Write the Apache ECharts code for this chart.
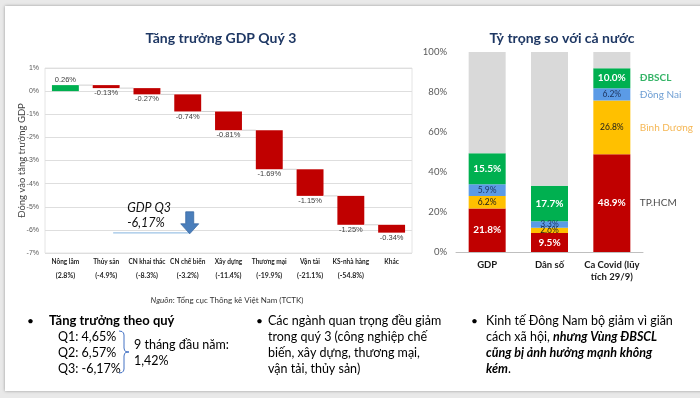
<!DOCTYPE html>
<html><head><meta charset="utf-8">
<script src="https://cdn.jsdelivr.net/npm/echarts@6/dist/echarts.min.js"></script>
<style>html,body{margin:0;padding:0;background:#e9e9e9}#c{width:700px;height:398px}</style>
</head><body><div id="c"></div>
<script>
// ---- Left chart data (waterfall) ----
const sectors = ['Nông lâm','Thủy sản','CN khai thác','CN chế biến','Xây dựng','Thương mại','Vận tải','KS-nhà hàng','Khác'];
const sectorGrowth = ['(2.8%)','(-4.9%)','(-8.3%)','(-3.2%)','(-11.4%)','(-19.9%)','(-21.1%)','(-54.8%)',''];
const contributions = [0.26,-0.13,-0.27,-0.74,-0.81,-1.69,-1.15,-1.25,-0.34];
const gdpQ3 = -6.17;
const leftTicks = [-7,-6,-5,-4,-3,-2,-1,0,1];
// ---- Right chart data (stacked shares) ----
const shareCats = ['GDP','Dân số','Ca Covid (lũy\ntích 29/9)'];
const regionNames = ['TP.HCM','Bình Dương','Đồng Nai','ĐBSCL'];
const hcm = [21.8, 9.5, 48.9];
const binhDuong = [6.2, 2.6, 26.8];
const dongNai = [5.9, 3.3, 6.2];
const dbscl = [15.5, 17.7, 10.0];
const rightTicks = [0,20,40,60,80,100];

const FONT = 'Lato';
const wfData = [];
let cum = 0;
contributions.forEach((d, i) => { const s = cum; cum = +(cum + d).toFixed(4); wfData.push([i, s, cum, d]); });

const regionVals = [hcm, binhDuong, dongNai, dbscl];
const rest = shareCats.map((_, i) => +(100 - regionVals.reduce((a, arr) => a + arr[i], 0)).toFixed(1));
const regionColors = ['#C00000','#FFC000','#5B9BE6','#00B050'];
const labelColors = ['#ffffff','#1a1a1a','#1F3864','#ffffff'];
const labelBold = ['bold','normal','normal','bold'];
const legendColors = ['#1a1a1a','#F2A52B','#4A86C8','#00A040'];
const legendBold = ['normal','normal','normal','bold'];

const chart = echarts.init(document.getElementById('c'));

const rightSeries = regionNames.map((n, k) => ({
  type: 'bar', name: n, stack: 's', xAxisIndex: 1, yAxisIndex: 1, barWidth: 37,
  data: regionVals[k], itemStyle: { color: regionColors[k] },
  label: { show: true, position: 'inside', formatter: p => p.value.toFixed(1) + '%',
    color: labelColors[k], fontWeight: labelBold[k], fontSize: k === 0 || k === 3 ? 10 : 8.5, fontFamily: FONT }
}));
rightSeries.push({ type: 'bar', name: 'rest', stack: 's', xAxisIndex: 1, yAxisIndex: 1, barWidth: 37,
  data: rest, itemStyle: { color: '#D9D9D9' }, silent: true });
let base = 0;
regionNames.forEach((n, k) => {
  const v = regionVals[k][2];
  const mid = base + v / 2; base += v;
  rightSeries.push({ type: 'scatter', xAxisIndex: 1, yAxisIndex: 1, symbolSize: 0, data: [[2, mid]],
    label: { show: true, position: 'right', distance: 28, formatter: n, color: legendColors[k],
      fontWeight: legendBold[k], fontSize: 10, fontFamily: FONT } });
});

const option = {
  animation: false,
  backgroundColor: '#e9e9e9',
  title: [
    { text: 'Tăng trưởng GDP Quý 3', left: 216, top: 26, textAlign: 'center',
      textStyle: { fontFamily: FONT, fontSize: 14, fontWeight: 'bold', color: '#1F3864' } },
    { text: 'Tỷ trọng so với cả nước', left: 557, top: 26, textAlign: 'center',
      textStyle: { fontFamily: FONT, fontSize: 14, fontWeight: 'bold', color: '#1F3864' } }
  ],
  grid: [
    { left: 45, right: 288, top: 68, bottom: 145, show: true, borderColor: '#e4e4e4', borderWidth: 1, outerBoundsMode: 'none', containLabel: false },
    { left: 456, right: 57, top: 52, bottom: 146, outerBoundsMode: 'none', containLabel: false }
  ],
  xAxis: [
    { type: 'category', gridIndex: 0, data: sectors, axisLine: { show: false }, axisTick: { show: false },
      axisLabel: { interval: 0, margin: 2,
        formatter: (v, i) => '{a|' + v + '}\n{b|' + sectorGrowth[i] + '}',
        rich: { a: { fontSize: 6.5, fontWeight: 'bold', color: '#262626', fontFamily: FONT, lineHeight: 14 },
                b: { fontSize: 7, fontWeight: 'bold', color: '#262626', fontFamily: FONT, lineHeight: 14 } } } },
    { type: 'category', gridIndex: 1, data: shareCats, axisLine: { lineStyle: { color: '#bfbfbf' } }, axisTick: { show: false },
      axisLabel: { interval: 0, margin: 7, fontSize: 9.5, fontWeight: 'bold', color: '#1a1a1a', fontFamily: FONT, lineHeight: 12 } }
  ],
  yAxis: [
    { type: 'value', gridIndex: 0, min: leftTicks[0], max: leftTicks[leftTicks.length - 1], interval: 1,
      name: 'Đóng vào tăng trưởng GDP', nameLocation: 'middle', nameGap: 18, nameMoveOverlap: false,
      nameTextStyle: { fontSize: 9.5, color: '#404040', fontFamily: FONT },
      axisLine: { show: false }, axisTick: { show: false },
      axisLabel: { formatter: v => v + '%', fontSize: 7, color: '#595959', margin: 6, fontFamily: 'Liberation Sans' },
      splitLine: { lineStyle: { color: '#dedede' } } },
    { type: 'value', gridIndex: 1, min: rightTicks[0], max: rightTicks[rightTicks.length - 1], interval: 20,
      axisLine: { show: false }, axisTick: { show: false }, splitLine: { show: false },
      axisLabel: { formatter: v => v + '%', fontSize: 9.5, color: '#595959', margin: 9, fontFamily: FONT } }
  ],
  series: [
    { type: 'custom', xAxisIndex: 0, yAxisIndex: 0, data: wfData, encode: { x: 0, y: [1, 2] },
      renderItem: (params, api) => {
        const i = api.value(0), s = api.value(1), e = api.value(2), d = api.value(3);
        const p1 = api.coord([i, s]), p2 = api.coord([i, e]);
        const band = api.size([1, 0])[0];
        const w = band * 0.66;
        const top = Math.min(p1[1], p2[1]), bot = Math.max(p1[1], p2[1]);
        const children = [
          { type: 'rect', shape: { x: p1[0] - w / 2, y: top, width: w, height: bot - top },
            style: { fill: d >= 0 ? '#00B050' : '#C00000' } },
          { type: 'text', style: { text: d.toFixed(2) + '%', x: p1[0], y: d >= 0 ? top - 1 : bot + 1,
              textAlign: 'center', textVerticalAlign: d >= 0 ? 'bottom' : 'top',
              fontSize: 7.5, fill: '#404040', fontFamily: 'Liberation Sans' } }
        ];
        if (i < wfData.length - 1) {
          children.push({ type: 'line', shape: { x1: p1[0] + w / 2, y1: p2[1], x2: p1[0] + band - w / 2, y2: p2[1] },
            style: { stroke: '#d0d0d0', lineWidth: 1 } });
        }
        return { type: 'group', children };
      } },
    ...rightSeries
  ]
};
chart.setOption(option);

const pA = chart.convertToPixel({ gridIndex: 0 }, [1, gdpQ3]);
const pB = chart.convertToPixel({ gridIndex: 0 }, [3, gdpQ3]);
const ax = pB[0] + 2, ay = pA[1];
chart.setOption({ graphic: [
  { type: 'rect', z: -100, shape: { x: 5, y: 6, width: 700, height: 385 },
    style: { fill: '#ffffff', shadowBlur: 3, shadowColor: 'rgba(0,0,0,0.35)' } },
  { type: 'line', shape: { x1: pA[0] + 7, y1: ay - 1, x2: ax, y2: ay - 1 }, style: { stroke: '#9DC3E6', lineWidth: 1.2 } },
  { type: 'polygon', shape: { points: [[ax - 4, ay - 22], [ax + 4, ay - 22], [ax + 4, ay - 10], [ax + 9, ay - 10], [ax, ay], [ax - 9, ay - 10], [ax - 4, ay - 10]] },
    style: { fill: '#4A7EBB', stroke: '#3A6AA3', lineWidth: 0.8 } },
  { type: 'text', style: { text: 'GDP Q3', x: pA[0] + 21, y: ay - 26, textVerticalAlign: 'middle', fontFamily: FONT, fontSize: 12.5, fontStyle: 'italic', fill: '#111' } },
  { type: 'text', style: { text: '-6,17%', x: pA[0] + 21, y: ay - 11, textVerticalAlign: 'middle', fontFamily: FONT, fontSize: 12.5, fontStyle: 'italic', fill: '#111' } },
  { type: 'text', style: { rich: { i: { fontStyle: 'italic', fontSize: 8, fontFamily: FONT, fill: '#333' }, n: { fontSize: 8, fontFamily: FONT, fill: '#333' } },
      text: '{i|Nguồn}{n|: Tổng cục Thống kê Việt Nam (TCTK)}', x: 227, y: 300, textAlign: 'center', textVerticalAlign: 'middle' } },
  { type: 'text', style: { text: '•', x: 27, y: 321, textVerticalAlign: 'middle', fontSize: 12, fontFamily: FONT, fill: '#000' } },
  { type: 'text', style: { text: 'Tăng trưởng theo quý', x: 49, y: 321, textVerticalAlign: 'middle', fontSize: 13, fontWeight: 'bold', fontFamily: FONT, fill: '#000' } },
  { type: 'text', style: { text: 'Q1: 4,65%', x: 58, y: 337, textVerticalAlign: 'middle', fontSize: 12.5, fontFamily: FONT, fill: '#000' } },
  { type: 'text', style: { text: 'Q2: 6,57%', x: 58, y: 353, textVerticalAlign: 'middle', fontSize: 12.5, fontFamily: FONT, fill: '#000' } },
  { type: 'text', style: { text: 'Q3: -6,17%', x: 58, y: 369, textVerticalAlign: 'middle', fontSize: 12.5, fontFamily: FONT, fill: '#000' } },
  { type: 'polyline', shape: { points: [[119,331],[122,331.5],[123.5,333],[124,335],[124,348],[124.6,350.5],[126,351.6],[129,352],[126,352.4],[124.6,353.5],[124,356],[124,369],[123.5,371],[122,372.5],[119,373]] },
    style: { fill: 'none', stroke: '#4472C4', lineWidth: 1 } },
  { type: 'text', style: { text: '9 tháng đầu năm:', x: 134, y: 345, textVerticalAlign: 'middle', fontSize: 12.5, fontFamily: FONT, fill: '#000' } },
  { type: 'text', style: { text: '1,42%', x: 134, y: 361, textVerticalAlign: 'middle', fontSize: 12.5, fontFamily: FONT, fill: '#000' } },
  { type: 'text', style: { text: '•', x: 256, y: 321, textVerticalAlign: 'middle', fontSize: 12, fontFamily: FONT, fill: '#000' } },
  { type: 'text', style: { text: 'Các ngành quan trọng đều giảm\ntrong quý 3 (công nghiệp chế\nbiến, xây dựng, thương mại,\nvận tải, thủy sản)',
      x: 268, y: 313, lineHeight: 16, fontSize: 12.5, fontFamily: FONT, fill: '#000' } },
  { type: 'text', style: { text: '•', x: 471, y: 321, textVerticalAlign: 'middle', fontSize: 12, fontFamily: FONT, fill: '#000' } },
  { type: 'text', style: {
      rich: { n: { fontSize: 12.5, fontFamily: FONT, fill: '#000', lineHeight: 16 },
              b: { fontSize: 12.5, fontFamily: FONT, fill: '#000', fontWeight: 'bold', fontStyle: 'italic', lineHeight: 16 } },
      text: '{n|Kinh tế Đông Nam bộ giảm vì giãn}\n{n|cách xã hội, }{b|nhưng Vùng ĐBSCL}\n{b|cũng bị ảnh hưởng mạnh không}\n{b|kém}{n|.}',
      x: 486, y: 313 } }
] });
</script></body></html>
